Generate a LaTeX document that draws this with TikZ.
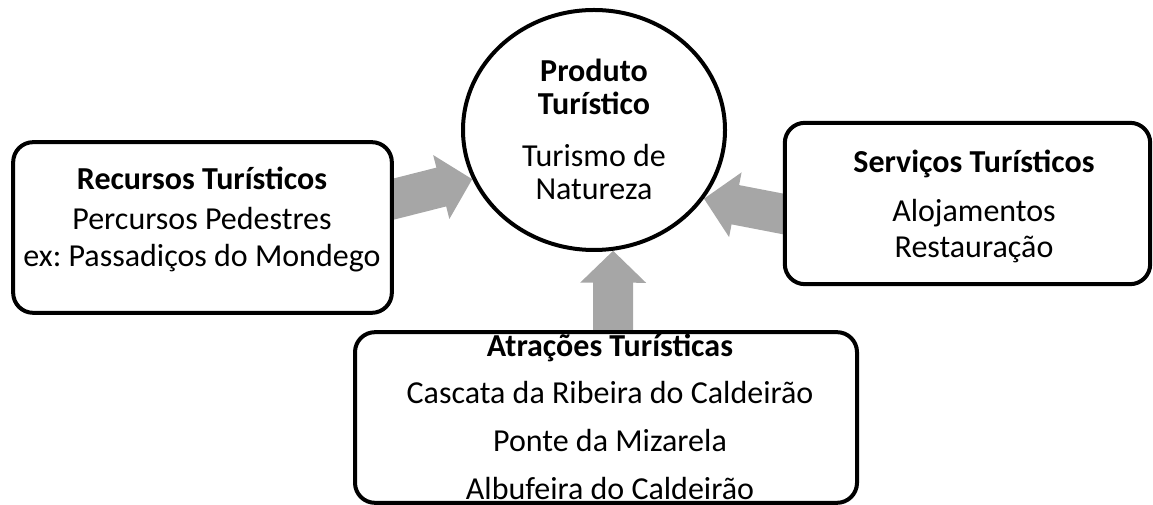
\documentclass[tikz,border=0pt]{standalone}
\usepackage{fontspec}
\setmainfont{Carlito}
\usetikzlibrary{shapes.geometric,arrows.meta,backgrounds}
\definecolor{arrowgray}{HTML}{A6A6A6}
\tikzset{
  card/.style={draw, line width=3pt, rounded corners=15pt, fill=white, inner sep=0pt},
  bodytext/.style={anchor=base, inner sep=0pt, font=\fontsize{24}{28}\selectfont},
  headtext/.style={bodytext, font=\fontsize{24}{28}\selectfont\bfseries},
  bigarrow/.style={line width=30pt, arrowgray, -{Triangle[width=48pt,length=24pt]}}
}
\begin{document}
\begin{tikzpicture}[x=0.75pt,y=-0.75pt]
\useasboundingbox (0,0) rectangle (1153,505);
% boxes
\node[card, minimum width=284pt, minimum height=128pt] (rec) at (202.5,227.5) {};
\node[ellipse, draw, line width=3pt, fill=white, inner sep=0pt, minimum width=196.5pt, minimum height=180pt] (prod) at (594,130) {};
\node[card, minimum width=274pt, minimum height=121pt] (serv) at (967.5,203.5) {};
\node[card, minimum width=376.5pt, minimum height=128pt] (atr) at (606,417.5) {};
% texts
\node[headtext] (rec1) at (202,190) {Recursos Turísticos};
\node[bodytext] (rec2) at (202,230) {Percursos Pedestres};
\node[bodytext] (rec3) at (202,267) {ex:\ Passadiços do Mondego};
\node[headtext] (prod1) at (594,82) {Produto};
\node[headtext] (prod2) at (594,115) {Turístico};
\node[bodytext] (prod3) at (594,167) {Turismo de};
\node[bodytext] (prod4) at (594,200) {Natureza};
\node[headtext] (serv1) at (974,173) {Serviços Turísticos};
\node[bodytext] (serv2) at (974,222) {Alojamentos};
\node[bodytext] (serv3) at (974,258) {Restauração};
\node[headtext] (atr1) at (610,357) {Atrações Turísticas};
\node[bodytext] (atr2) at (610,404) {Cascata da Ribeira do Caldeirão};
\node[bodytext] (atr3) at (610,452) {Ponte da Mizarela};
\node[bodytext] (atr4) at (610,500) {Albufeira do Caldeirão};
% arrows
\coordinate (recout) at (360,207.6);
\coordinate (servout) at (815,220.1);
\coordinate (atrout) at (613,350);
\begin{scope}[on background layer]
\draw[bigarrow] (recout) -- (prod.202.6);
\draw[bigarrow] (servout) -- (prod.328.7);
\draw[bigarrow] (atrout) -- (prod.279);
\end{scope}
\end{tikzpicture}
\end{document}
